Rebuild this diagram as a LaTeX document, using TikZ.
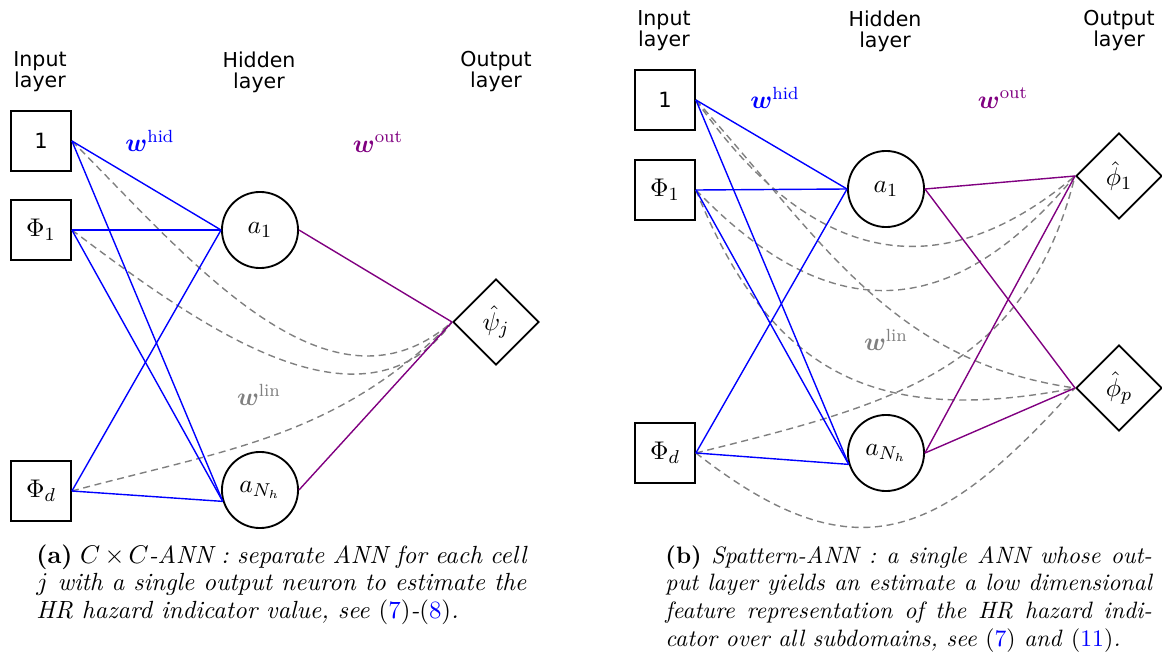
\documentclass[tikz,border=0pt]{standalone}
\usepackage{amsmath}
\usepackage{bm}
\usepackage{xcolor}
\usepackage{fontspec}
\newfontfamily\layerfont{DejaVu Sans}
\usepackage{tikz}
\usetikzlibrary{shapes.geometric}

\begin{document}
\begin{tikzpicture}[x=0.4286pt,y=0.4286pt,font=\fontsize{10.8}{12}\selectfont,
    inp/.style={draw,thick,rectangle,minimum size=25.7pt,inner sep=0pt},
    hid/.style={draw,thick,circle,minimum size=32.6pt,inner sep=0pt},
    outp/.style={draw,thick,diamond,minimum size=36.9pt,inner sep=0pt},
    layer/.style={align=center,font=\layerfont\fontsize{8.8}{9}\selectfont},
    whid/.style={blue,semithick},
    wout/.style={violet,semithick},
    wlin/.style={gray,semithick,dash pattern=on 3pt off 2pt},
    captext/.style={anchor=base west,text width=208.5pt,align=justify,inner sep=0pt}]

        \useasboundingbox (0,0) rectangle (1162,-657);

        % ===== (a) セルごとのANN =====

        % 層の名前
        \node[layer] (inlaba)  at (40,-72)  {Input\\layer};
        \node[layer] (hidlaba) at (259,-72) {Hidden\\layer};
        \node[layer] (outlaba) at (496,-72) {Output\\layer};

        % ノード
        \node[inp] (one)  at (41,-141) {\layerfont\fontsize{9}{10}\selectfont 1};
        \node[inp] (phi1) at (41,-230) {$\Phi_1$};
        \node[inp] (phid) at (41,-491) {$\Phi_d$};
        \node[hid] (a1)   at (260,-230) {$a_1$};
        \node[hid] (aN)   at (260,-490) {$a_{N_h}$};
        \node[outp] (psi) at (496,-322) {$\hat{\psi}_j$};

        % 線形項
        \draw[wlin] (one.east)  to[out=-45,in=-139] (psi.west);
        \draw[wlin] (phi1.east) to[out=-37,in=-126] (psi.west);
        \draw[wlin] (phid.east) to[out=15,in=-135]  (psi.west);

        % 入力層 -> 隠れ層
        \coordinate (a1in) at (a1.west);
        \coordinate (aNin) at (aN.197);
        \foreach \s in {one,phi1,phid}
          \foreach \t in {a1in,aNin}
            \draw[whid] (\s.east) -- (\t);

        % 隠れ層 -> 出力層
        \draw[wout] (a1.east) -- (psi.west);
        \draw[wout] (aN.east) -- (psi.west);

        % 重みのラベル
        \node[blue]   (lhida) at (150,-141) {$\bm{w}^{\mathrm{hid}}$};
        \node[violet] (louta) at (378,-142) {$\bm{w}^{\mathrm{out}}$};
        \node[gray]   (llina) at (259,-395) {$\bm{w}^{\mathrm{lin}}$};

        % キャプション
        \node[captext,text width=210pt,font=\fontsize{10.65}{12}\selectfont] (capa) at (36,-563) {\textbf{(a)} {\itshape $C\times C$-ANN : separate ANN for each cell\linebreak
          $j$ with a single output neuron to estimate the\linebreak
          HR hazard indicator value, see \textup{(}{\color{blue}\textup{7}}\textup{)}-\textup{(}{\color{blue}\textup{8}}\textup{)}.}};

        % ===== (b) Spattern-ANN =====

        % 層の名前
        \node[layer] (inlabb)  at (664,-31)  {Input\\layer};
        \node[layer] (hidlabb) at (885,-31)  {Hidden\\layer};
        \node[layer] (outlabb) at (1119,-31) {Output\\layer};

        % ノード
        \node[inp] (oneb)  at (665,-100) {\layerfont\fontsize{9}{10}\selectfont 1};
        \node[inp] (phi1b) at (665,-190) {$\Phi_1$};
        \node[inp] (phidb) at (665,-453) {$\Phi_d$};
        \node[hid] (a1b)   at (886,-189) {$a_1$};
        \node[hid] (aNb)   at (886,-453) {$a_{N_h}$};
        \node[outp] (ph1)  at (1119,-176) {$\hat{\phi}_1$};
        \node[outp] (php)  at (1119,-388) {$\hat{\phi}_p$};

        % 線形項
        \draw[wlin] (oneb.east)  to[out=-55,in=-140,looseness=1.25] (ph1.west);
        \draw[wlin] (phi1b.east) to[out=-46,in=-130,looseness=1.3]  (ph1.west);
        \draw[wlin] (phidb.east) to[out=14,in=-104,looseness=1.1]   (ph1.west);
        \draw[wlin] (oneb.east)  to[out=-48,in=172]                 (php.west);
        \draw[wlin] (phi1b.east) to[out=-68,in=-169,looseness=1.2]  (php.west);
        \draw[wlin] (phidb.east) to[out=-38,in=-132,looseness=1.35] (php.west);

        % 入力層 -> 隠れ層
        \coordinate (a1bin) at (a1b.west);
        \coordinate (aNbin) at (aNb.197);
        \foreach \s in {oneb,phi1b,phidb}
          \foreach \t in {a1bin,aNbin}
            \draw[whid] (\s.east) -- (\t);

        % 隠れ層 -> 出力層
        \foreach \s in {a1b,aNb}
          \foreach \t in {ph1,php}
            \draw[wout] (\s.east) -- (\t.west);

        % 重みのラベル
        \node[blue]   (lhidb) at (775,-98)  {$\bm{w}^{\mathrm{hid}}$};
        \node[violet] (loutb) at (1003,-98) {$\bm{w}^{\mathrm{out}}$};
        \node[gray]   (llinb) at (886,-340) {$\bm{w}^{\mathrm{lin}}$};

        % キャプション
        \node[captext,font=\fontsize{10.15}{12}\selectfont] (capb) at (665,-563) {\textbf{(b)} {\itshape Spattern-ANN : a single ANN whose out-\linebreak
          put layer yields an estimate a low dimensional\linebreak
          feature representation of the HR hazard indi-\linebreak
          cator over all subdomains, see \textup{(}{\color{blue}\textup{7}}\textup{)} and \textup{(}{\color{blue}\textup{11}}\textup{)}.}};
      \end{tikzpicture}
\end{document}
